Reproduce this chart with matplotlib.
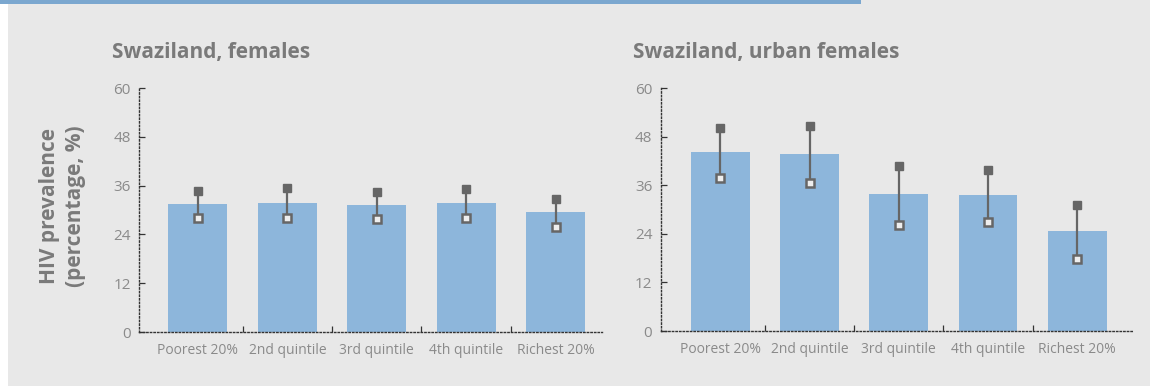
import matplotlib
matplotlib.use('Agg')
import matplotlib.pyplot as plt
from matplotlib.patches import Rectangle
import numpy as np

# Quintiles de riqueza
categories = ['Poorest 20%', '2nd quintile', '3rd quintile', '4th quintile', 'Richest 20%']

# Prevalencia VIH (%) con intervalo de confianza
females_value = [31.5, 31.7, 31.2, 31.7, 29.5]
females_upper = [34.7, 35.4, 34.4, 35.2, 32.8]
females_lower = [28.1, 28.0, 27.8, 28.1, 25.9]

urban_value = [44.2, 43.8, 33.9, 33.6, 24.7]
urban_upper = [50.2, 50.7, 40.9, 39.9, 31.2]
urban_lower = [37.9, 36.5, 26.3, 26.9, 17.9]

yticks = [0, 12, 24, 36, 48, 60]

BG = '#e8e8e8'
BAR = '#8db6db'
ERR = '#666666'
TXT = '#8a8a8a'
TITLE = '#7a7a7a'
AXIS = '#333333'

plt.rcParams['font.family'] = ['Open Sans', 'DejaVu Sans']

fig = plt.figure(figsize=(11.5, 3.87), dpi=100)
fig.patch.set_facecolor('white')
# panel gris y franja azul superior
fig.add_artist(Rectangle((8 / 1150, 1 / 387), 1 - 8 / 1150, 1 - 1 / 387,
                         transform=fig.transFigure, facecolor=BG, edgecolor='none', zorder=0))
fig.add_artist(Rectangle((0, 1 - 4 / 387), 861 / 1150, 4 / 387,
                         transform=fig.transFigure, facecolor='#7ba7cf', edgecolor='none', zorder=0))


def draw_panel(rect, xlim, values, upper, lower):
    ax = fig.add_axes(rect)
    ax.set_facecolor('none')
    x = np.arange(len(categories))
    ax.bar(x, values, width=0.66, color=BAR, zorder=2)
    ax.vlines(x, lower, upper, color=ERR, linewidth=1.6, zorder=3)
    ax.plot(x, upper, 's', color=ERR, markersize=6, zorder=4)
    ax.plot(x, lower, 's', markerfacecolor='#eeeeee', markeredgecolor=ERR,
            markeredgewidth=1.8, markersize=6, zorder=4)
    ax.set_xlim(*xlim)
    ax.set_ylim(0, 60)
    ax.set_yticks(yticks)
    ax.set_xticks(x)
    ax.set_xticklabels(categories)
    ax.set_xticks(x[:-1] + 0.5, minor=True)
    for side in ['top', 'right']:
        ax.spines[side].set_visible(False)
    # ejes punteados
    for side in ['left', 'bottom']:
        ax.spines[side].set_linestyle((0, (1, 1.6)))
        ax.spines[side].set_linewidth(1)
        ax.spines[side].set_color(AXIS)
    ax.tick_params(axis='y', direction='in', length=4, width=0.9, color=AXIS,
                   labelsize=11, labelcolor=TXT, pad=6)
    ax.tick_params(axis='x', which='major', length=0, labelsize=10, labelcolor=TXT, pad=8)
    ax.tick_params(axis='x', which='minor', direction='in', length=4, width=0.9, color=AXIS)
    return ax


ax1 = draw_panel([0.1211, 0.1421, 0.4024, 0.6305], (-0.656, 4.52),
                 females_value, females_upper, females_lower)
ax2 = draw_panel([0.5745, 0.1447, 0.4095, 0.6271], (-0.67, 4.61),
                 urban_value, urban_upper, urban_lower)

fig.text(0.0971, 0.850, 'Swaziland, females', fontsize=15, fontweight='bold',
         color=TITLE, ha='left', va='baseline')
fig.text(0.5504, 0.850, 'Swaziland, urban females', fontsize=15, fontweight='bold',
         color=TITLE, ha='left', va='baseline')

fig.text(0.054, 0.468, 'HIV prevalence\n(percentage, %)', rotation=90, ha='center', va='center',
         fontsize=15, fontweight='bold', color=TITLE, linespacing=1.3)

fig.savefig('out.png', dpi=100, facecolor=fig.get_facecolor())
